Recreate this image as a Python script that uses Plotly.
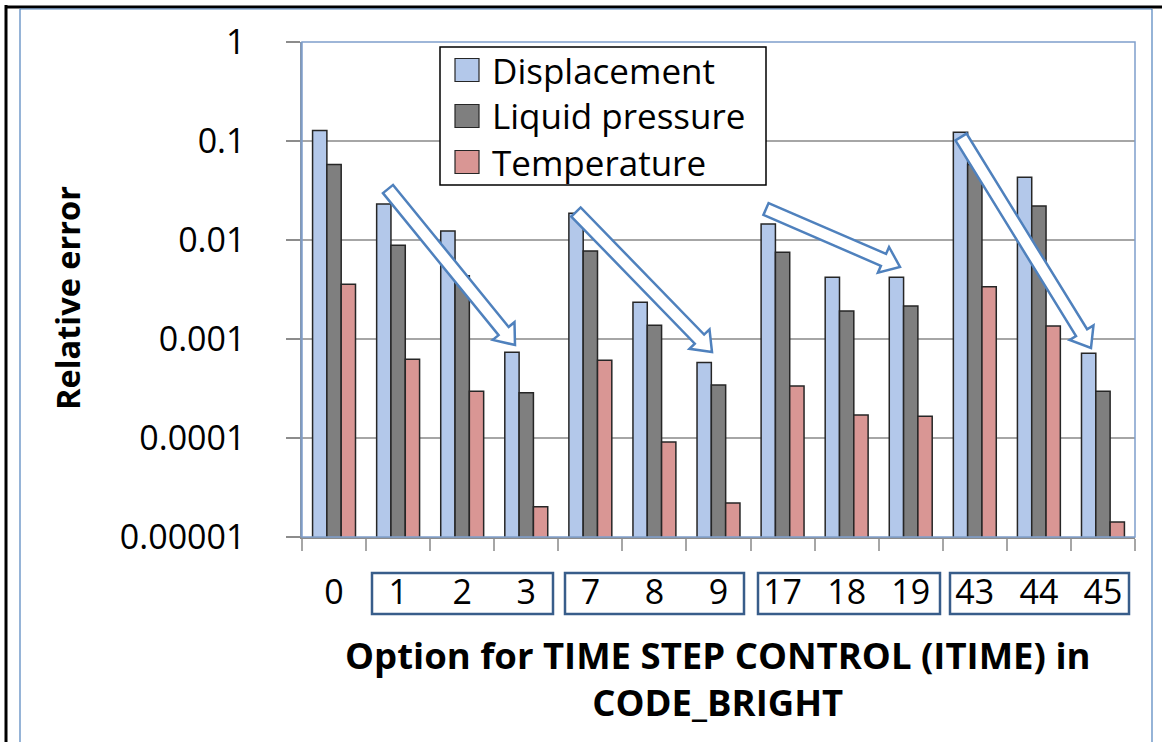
import math
import plotly.graph_objects as go

# ---------------- data ----------------
categories = ["0", "1", "2", "3", "7", "8", "9", "17", "18", "19", "43", "44", "45"]
displacement = [0.128, 0.0231, 0.0123, 0.000733, 0.0186, 0.00235, 0.00058,
                0.0145, 0.0042, 0.0042, 0.1225, 0.043, 0.000716]
liquid_pressure = [0.058, 0.00884, 0.00436, 0.000287, 0.00774, 0.00138, 0.000343,
                   0.0075, 0.00192, 0.00215, 0.058, 0.022, 0.000296]
temperature = [0.00357, 0.000624, 0.000296, 0.0000202, 0.000609, 0.0000910, 0.0000220,
               0.000335, 0.000171, 0.000166, 0.00338, 0.00135, 0.0000142]
series_names = ["Displacement", "Liquid pressure", "Temperature"]
ytick_vals = [0.00001, 0.0001, 0.001, 0.01, 0.1, 1]
ytick_text = ["0.00001", "0.0001", "0.001", "0.01", "0.1", "1"]

# ---------------- layout constants (pixels) ----------------
W, H = 1162, 742
L, R, T, B = 302, 1135, 42, 537
FONT = "Open Sans, Lato, DejaVu Sans, sans-serif"
colors = ["#b3c8ea", "#7f7f7f", "#d99694"]


def px(x):
    return (x - L) / (R - L)


def py(y):
    return (B - y) / (B - T)


fig = go.Figure()
for name, vals, col in zip(series_names, [displacement, liquid_pressure, temperature], colors):
    fig.add_trace(go.Bar(
        x=categories, y=vals, name=name,
        marker=dict(color=col, line=dict(color="#262626", width=1.5)),
    ))

shapes = []
annotations = []

# outer frame lines
shapes += [
    dict(type="line", xref="paper", yref="paper", x0=px(6), x1=px(6), y0=py(5), y1=py(745),
         line=dict(color="black", width=3)),
    dict(type="line", xref="paper", yref="paper", x0=px(5), x1=px(1165), y0=py(7), y1=py(7),
         line=dict(color="black", width=3)),
    dict(type="line", xref="paper", yref="paper", x0=px(20), x1=px(20), y0=py(9), y1=py(745),
         line=dict(color="#4f81bd", width=1.2)),
    dict(type="line", xref="paper", yref="paper", x0=px(20), x1=px(1152), y0=py(9), y1=py(9),
         line=dict(color="#4f81bd", width=1.2)),
    dict(type="line", xref="paper", yref="paper", x0=px(1152), x1=px(1152), y0=py(9), y1=py(745),
         line=dict(color="#4f81bd", width=1.2)),
]

# plot-area border
shapes.append(dict(type="rect", xref="paper", yref="paper", x0=0, x1=1, y0=0, y1=1,
                   line=dict(color="#7f9fcc", width=1.5), layer="above"))

# group boxes under tick labels
for x0, x1 in [(372, 553), (565, 744), (758, 940), (950, 1129)]:
    shapes.append(dict(type="rect", xref="paper", yref="paper", x0=px(x0), x1=px(x1),
                       y0=py(614), y1=py(573), line=dict(color="#385d8a", width=2.5)))

# hollow block arrows
arrows = [((388, 189), (515, 345)), ((576, 212), (712, 352)),
          ((766, 209), (900, 267)), ((961, 137), (1091, 348))]
for (x0, y0), (x1, y1) in arrows:
    dx, dy = x1 - x0, y1 - y0
    ln = math.hypot(dx, dy)
    ux, uy = dx / ln, dy / ln
    nx, ny = -uy, ux
    w, hw, hl = 6.5, 14, 18
    bx, by = x1 - ux * hl, y1 - uy * hl
    pts = [(x0 + nx * w, y0 + ny * w), (bx + nx * w, by + ny * w), (bx + nx * hw, by + ny * hw),
           (x1, y1), (bx - nx * hw, by - ny * hw), (bx - nx * w, by - ny * w),
           (x0 - nx * w, y0 - ny * w)]
    path = "M " + " L ".join(f"{px(a):.5f},{py(b):.5f}" for a, b in pts) + " Z"
    shapes.append(dict(type="path", xref="paper", yref="paper", path=path,
                       fillcolor="white", line=dict(color="#4f81bd", width=2.5), layer="above"))

# custom legend
shapes.append(dict(type="rect", xref="paper", yref="paper", x0=px(440), x1=px(766),
                   y0=py(185), y1=py(47), fillcolor="white", line=dict(color="black", width=1.5),
                   layer="above"))
for i, (name, col) in enumerate(zip(series_names, colors)):
    cy = 70 + i * 46
    shapes.append(dict(type="rect", xref="paper", yref="paper", x0=px(455), x1=px(479),
                       y0=py(cy + 11.5), y1=py(cy - 11.5), fillcolor=col,
                       line=dict(color="#262626", width=1.2), layer="above"))
    annotations.append(dict(xref="paper", yref="paper", x=px(490), y=py(cy), text=name,
                            showarrow=False, xanchor="left", yanchor="middle",
                            font=dict(family=FONT, size=35, color="black")))

# axis titles
annotations.append(dict(xref="paper", yref="paper", x=px(67), y=py(298), text="<b>Relative error</b>",
                        textangle=-90, showarrow=False, xanchor="center", yanchor="middle",
                        font=dict(family=FONT, size=32.5, color="black")))
annotations.append(dict(xref="paper", yref="paper", x=px(718), y=py(678),
                        text="<b>Option for TIME STEP CONTROL (ITIME) in<br>CODE_BRIGHT</b>",
                        showarrow=False, xanchor="center", yanchor="middle",
                        font=dict(family=FONT, size=36.5, color="black")))

fig.update_layout(
    width=W, height=H, autosize=False,
    margin=dict(l=L, r=W - R, t=T, b=H - B, pad=0),
    paper_bgcolor="white", plot_bgcolor="white",
    barmode="group", bargap=0.33, bargroupgap=0,
    showlegend=False,
    shapes=shapes, annotations=annotations,
    font=dict(family=FONT, color="black"),
)
fig.update_yaxes(
    type="log", range=[-5, 0], tickvals=ytick_vals, ticktext=ytick_text,
    ticks="outside", ticklen=14, tickcolor="#8c8c8c", tickwidth=1.5,
    showgrid=True, gridcolor="#a6a6a6", gridwidth=1.5,
    showline=True, linecolor="#8497b0", linewidth=1.5,
    tickfont=dict(family=FONT, size=34, color="black"),
    ticklabelstandoff=34, zeroline=False,
)
fig.update_xaxes(
    type="category", tickson="boundaries", ticks="outside", ticklen=12,
    tickcolor="#a6a6a6", tickwidth=1.5,
    showline=True, linecolor="#8c8c8c", linewidth=1.5, showgrid=False,
    tickfont=dict(family=FONT, size=34, color="black"),
    ticklabelstandoff=24,
)

fig.write_html("out.html")
